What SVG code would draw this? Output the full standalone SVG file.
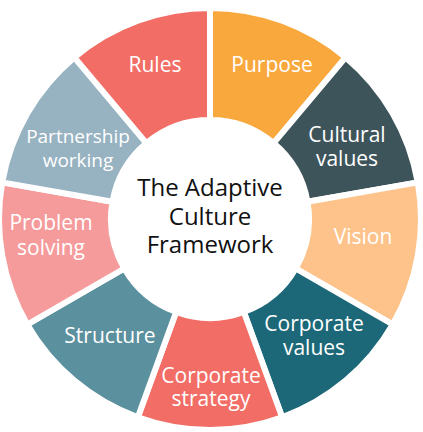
<svg xmlns="http://www.w3.org/2000/svg" width="423" height="432" viewBox="0 0 423 432">
<style>
.seg{stroke:#fff;stroke-width:6;stroke-linejoin:round}
.lbl{font-family:"Open Sans","Liberation Sans",sans-serif;font-size:21px;fill:#fff;text-anchor:middle}
.sm{font-size:19px}
.ctr{font-family:"Open Sans","Liberation Sans",sans-serif;font-size:24px;font-weight:500;fill:#111;text-anchor:middle}
</style>
<rect width="423" height="432" fill="#fff"/>
<g id="purpose">
<path class="seg" fill="#F9A83D" d="M210,8 A211,211 0 0 1 345.63,57.37 L273.64,143.17 A99,99 0 0 0 210,120 Z"/>
<text class="lbl" x="272" y="72">Purpose</text>
</g>
<g id="cultural-values">
<path class="seg" fill="#3E545B" d="M345.63,57.37 A211,211 0 0 1 417.79,182.37 L307.50,201.81 A99,99 0 0 0 273.64,143.17 Z"/>
<text class="lbl" x="347" y="142">Cultural</text>
<text class="lbl" x="347" y="166">values</text>
</g>
<g id="vision">
<path class="seg" fill="#FDC38B" d="M417.79,182.37 A211,211 0 0 1 392.73,324.5 L295.73,268.5 A99,99 0 0 0 307.50,201.81 Z"/>
<text class="lbl" x="363" y="244">Vision</text>
</g>
<g id="corporate-values">
<path class="seg" fill="#1C6878" d="M392.73,324.5 A211,211 0 0 1 282.16,417.28 L243.86,312.03 A99,99 0 0 0 295.73,268.5 Z"/>
<text class="lbl" x="314" y="331">Corporate</text>
<text class="lbl" x="314" y="355">values</text>
</g>
<g id="corporate-strategy">
<path class="seg" fill="#F26D65" d="M282.16,417.28 A211,211 0 0 1 137.84,417.28 L176.14,312.03 A99,99 0 0 0 243.86,312.03 Z"/>
<text class="lbl" x="211" y="383">Corporate</text>
<text class="lbl" x="211" y="406">strategy</text>
</g>
<g id="structure">
<path class="seg" fill="#5B909E" d="M137.84,417.28 A211,211 0 0 1 27.27,324.5 L124.27,268.5 A99,99 0 0 0 176.14,312.03 Z"/>
<text class="lbl" x="110" y="343">Structure</text>
</g>
<g id="problem-solving">
<path class="seg" fill="#F59B9B" d="M27.27,324.5 A211,211 0 0 1 2.21,182.37 L112.50,201.81 A99,99 0 0 0 124.27,268.5 Z"/>
<text class="lbl" x="51" y="230">Problem</text>
<text class="lbl" x="51" y="255">solving</text>
</g>
<g id="partnership-working">
<path class="seg" fill="#97B2C1" d="M2.21,182.37 A211,211 0 0 1 74.37,57.37 L146.36,143.17 A99,99 0 0 0 112.50,201.81 Z"/>
<text class="lbl sm" x="78" y="143">Partnership</text>
<text class="lbl sm" x="78" y="167">working</text>
</g>
<g id="rules">
<path class="seg" fill="#F26D65" d="M74.37,57.37 A211,211 0 0 1 210,8 L210,120 A99,99 0 0 0 146.36,143.17 Z"/>
<text class="lbl" x="155" y="72">Rules</text>
</g>
<g id="center">
<text class="ctr" x="210" y="196">The Adaptive</text>
<text class="ctr" x="210" y="225">Culture</text>
<text class="ctr" x="210" y="253">Framework</text>
</g>
<g id="connectors"/>
</svg>
